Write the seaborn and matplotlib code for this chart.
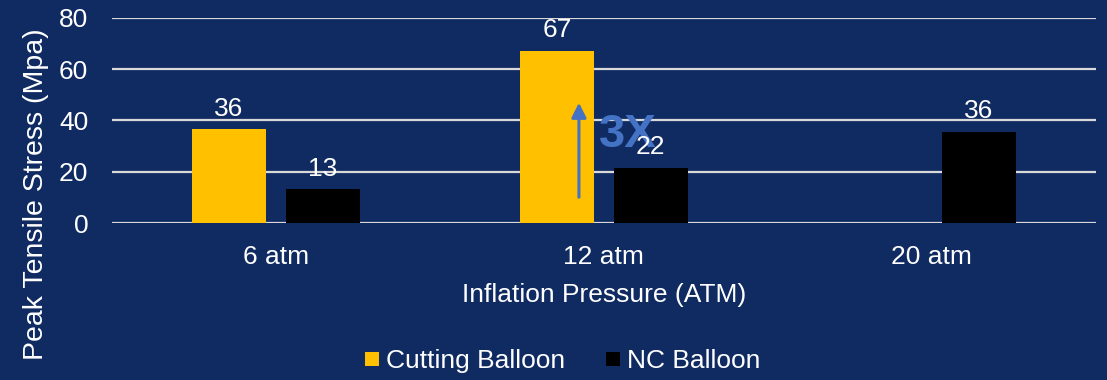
import numpy as np
import pandas as pd
import matplotlib
matplotlib.use("Agg")
import matplotlib.pyplot as plt
from matplotlib.lines import Line2D
import seaborn as sns

# Data
pressures = ["6 atm", "12 atm", "20 atm"]
cutting_balloon = [36.5, 67.2, np.nan]
nc_balloon = [13.2, 21.6, 35.6]
series_names = ["Cutting Balloon", "NC Balloon"]
colors = ["#ffc000", "#000000"]

bg = "#102b62"
fg = "white"
fs = 19

df = pd.DataFrame({
    "pressure": pressures * 2,
    "stress": cutting_balloon + nc_balloon,
    "series": [series_names[0]] * 3 + [series_names[1]] * 3,
})

sns.set_theme(style="white")
plt.rcParams["font.family"] = ["Liberation Sans", "DejaVu Sans"]

fig = plt.figure(figsize=(11.07, 3.8), dpi=100, facecolor=bg)
ax = fig.add_axes([0.101, 0.413, 0.889, 0.54])
ax.set_facecolor(bg)

sns.barplot(data=df, x="pressure", y="stress", hue="series",
            order=pressures, hue_order=series_names, palette=colors,
            saturation=1, width=0.572, gap=0.21, linewidth=0,
            ax=ax, legend=False, zorder=3)

for c in ax.containers:
    ax.bar_label(c, fmt="%.0f", padding=6, color=fg, fontsize=fs, zorder=5)

ax.set_ylim(0, 80)
ax.set_yticks([0, 20, 40, 60, 80])
ax.set_xlim(-0.5, 2.5)
ax.yaxis.grid(True, color="#d9d9d9", linewidth=1.6, zorder=0)
ax.set_axisbelow(True)
for s in ax.spines.values():
    s.set_visible(False)
ax.tick_params(axis="both", length=0, colors=fg, labelsize=fs)
ax.tick_params(axis="y", pad=17)
ax.tick_params(axis="x", pad=16)
ax.set_xlabel("Inflation Pressure (ATM)", color=fg, fontsize=fs, labelpad=10)
ax.set_ylabel("Peak Tensile Stress (Mpa)", color=fg, fontsize=20.5)
ax.yaxis.set_label_coords(-0.064, 0.14)

# 3X annotation
ax.annotate("", xy=(0.924, 48), xytext=(0.924, 9),
            arrowprops=dict(arrowstyle="-|>", color="#4472c4", lw=2.2,
                            mutation_scale=22), zorder=4)
ax.text(0.985, 34.5, "3X", color="#4472c4", fontsize=34, fontweight="bold",
        va="center", ha="left", zorder=4)

# legend with square markers
handles = [Line2D([], [], linestyle="none", marker="s", markersize=10,
                  markerfacecolor=col, markeredgewidth=0) for col in colors]
fig.legend(handles, series_names, loc="lower center", bbox_to_anchor=(0.508, -0.045),
           ncol=2, frameon=False, fontsize=fs, labelcolor=fg,
           handlelength=0.6, handletextpad=0.25, columnspacing=1.5)

fig.savefig("out.png", dpi=100, facecolor=bg)
